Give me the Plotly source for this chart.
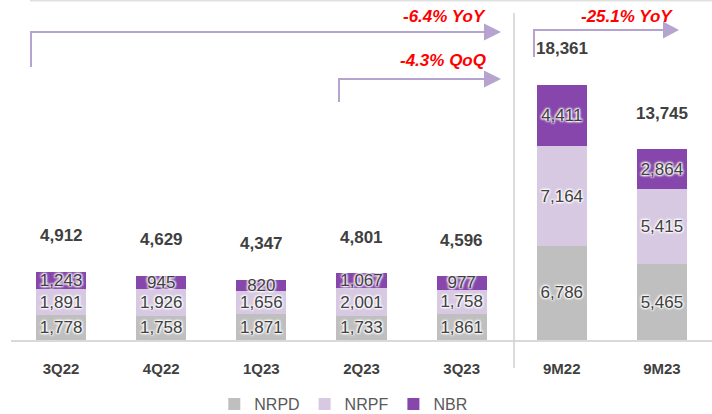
import plotly.graph_objects as go

categories = ["3Q22", "4Q22", "1Q23", "2Q23", "3Q23", "9M22", "9M23"]
nrpd = [1778, 1758, 1871, 1733, 1861, 6786, 5465]
nrpf = [1891, 1926, 1656, 2001, 1758, 7164, 5415]
nbr = [1243, 945, 820, 1067, 977, 4411, 2864]
totals = [4912, 4629, 4347, 4801, 4596, 18361, 13745]
growth_labels = ["-6.4% YoY", "-4.3% QoQ", "-25.1% YoY"]

W, H = 712, 414
ML, MR, MT, MB = 11, 0, 0, 74
PW, PH = W - ML - MR, H - MT - MB

def px(x):
    return (x - ML) / PW

def py(y):
    return (H - MB - y) / PH

FONT = "Liberation Sans, Arial, sans-serif"
TXT = "#404040"
SHADOW = "1px 1px 2px #fff, -1px -1px 2px #fff, 1px -1px 2px #fff, -1px 1px 2px #fff"

fig = go.Figure()
for name, vals, col in [("NRPD", nrpd, "#BFBFBF"), ("NRPF", nrpf, "#D7C9E2"), ("NBR", nbr, "#8646AB")]:
    fig.add_trace(go.Bar(
        x=categories, y=vals, name=name, marker=dict(color=col, line=dict(width=0)),
        width=0.5, texttemplate="%{y:,}", textposition="inside", insidetextanchor="middle",
        constraintext="none", textangle=0,
        textfont=dict(family=FONT, size=17, color=TXT, shadow=SHADOW),
        hoverinfo="skip",
    ))

for c, t in zip(categories, totals):
    fig.add_annotation(x=c, y=t, text=f"{t:,}", showarrow=False, yanchor="middle", yshift=36,
                       font=dict(family=FONT, size=17, color=TXT, weight="bold"))

ARROW = "#B4A4CF"
shapes = []
# top border line
shapes.append(dict(type="line", xref="paper", yref="paper", x0=px(30), x1=px(712), y0=py(0.5), y1=py(0.5),
                   line=dict(color="#E0E0E0", width=2)))
# separator
shapes.append(dict(type="line", xref="paper", yref="paper", x0=px(514), x1=px(514), y0=py(13), y1=py(368),
                   line=dict(color="#D0D0D0", width=1.5)))

def bent_arrow(xs, ybot, ytop, xhead, xtip):
    shapes.append(dict(type="path", xref="paper", yref="paper",
                       path=f"M {px(xs)},{py(ybot)} L {px(xs)},{py(ytop)} L {px(xhead)},{py(ytop)}",
                       line=dict(color=ARROW, width=2)))
    shapes.append(dict(type="path", xref="paper", yref="paper",
                       path=f"M {px(xhead)},{py(ytop-8.5)} L {px(xtip)},{py(ytop)} L {px(xhead)},{py(ytop+8.5)} Z",
                       fillcolor=ARROW, line=dict(color=ARROW, width=0)))

bent_arrow(31, 67, 32, 484, 501)
bent_arrow(339, 102, 79, 484, 501)
bent_arrow(534, 57, 30, 663, 679)
fig.update_layout(shapes=shapes)

red_font = dict(family=FONT, size=17, color="#FF0000", weight="bold", style="italic")
fig.add_annotation(xref="paper", yref="paper", x=px(488), y=py(16), text=growth_labels[0], showarrow=False,
                   xanchor="right", yanchor="middle", font=red_font)
fig.add_annotation(xref="paper", yref="paper", x=px(488), y=py(60), text=growth_labels[1], showarrow=False,
                   xanchor="right", yanchor="middle", font=red_font)
fig.add_annotation(xref="paper", yref="paper", x=px(627), y=py(16), text=growth_labels[2], showarrow=False,
                   xanchor="center", yanchor="middle", font=red_font)

fig.update_layout(
    width=W, height=H, barmode="stack", bargap=0.5,
    margin=dict(l=ML, r=MR, t=MT, b=MB, autoexpand=False),
    paper_bgcolor="white", plot_bgcolor="white",
    font=dict(family=FONT, color=TXT),
    xaxis=dict(type="category", showgrid=False, showline=True, linecolor="#D9D9D9", linewidth=2,
               ticks="", ticklabelstandoff=14, automargin=False,
               tickfont=dict(family=FONT, size=15, color=TXT, weight="bold")),
    yaxis=dict(range=[0, 24480], visible=False, showgrid=False, zeroline=False, automargin=False),
    legend=dict(orientation="h", x=0.474, xanchor="center", y=py(404), yanchor="middle",
                traceorder="normal", font=dict(family=FONT, size=16, color="#595959")),
    showlegend=True,
)

fig.write_html("out.html", config={"displayModeBar": False},
               post_script="document.body.style.margin='0';document.body.style.overflow='hidden';")
